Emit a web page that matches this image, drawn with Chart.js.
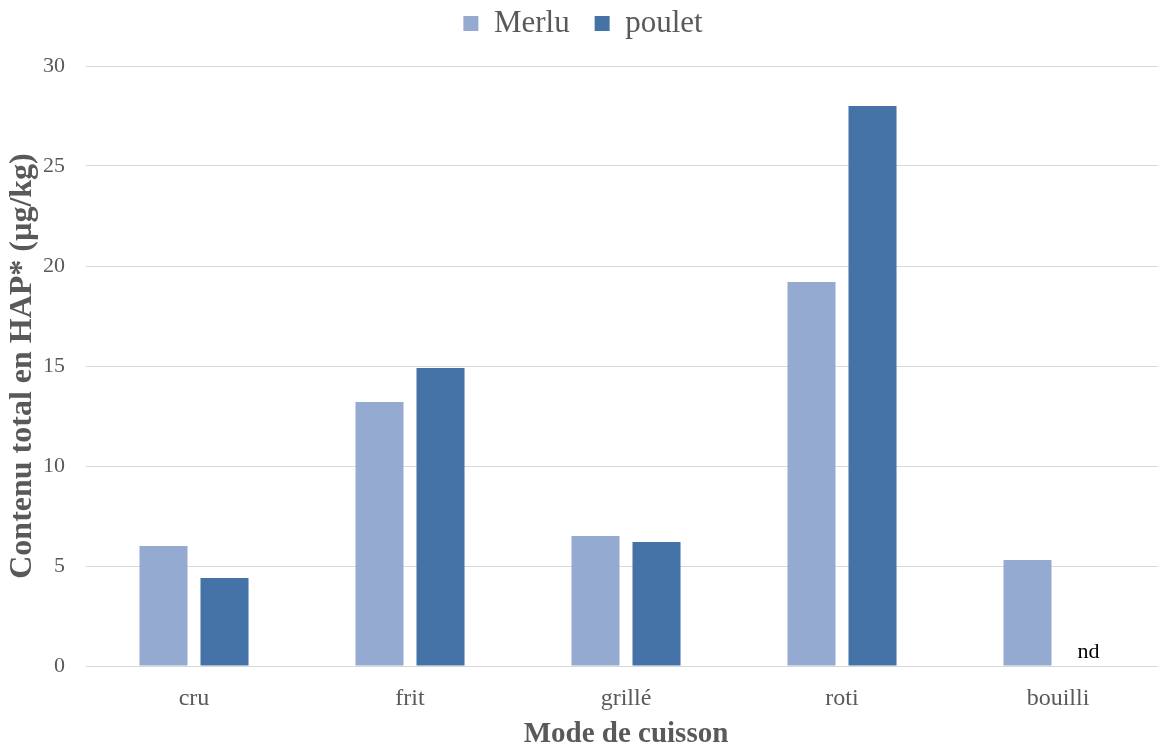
<!DOCTYPE html>
<html>
<head>
<meta charset="utf-8">
<script src="https://cdn.jsdelivr.net/npm/chart.js@4.4.1/dist/chart.umd.min.js"></script>
<style>
  html, body { margin: 0; padding: 0; background: #ffffff; overflow: hidden; }
  #wrap { width: 1166px; height: 747px; position: relative; }
</style>
</head>
<body>
<div id="wrap"><canvas id="c" width="1166" height="747"></canvas></div>
<script>
const categories = ['cru', 'frit', 'grillé', 'roti', 'bouilli'];
const merlu = [6.0, 13.2, 6.5, 19.2, 5.3];
const poulet = [4.4, 14.9, 6.2, 28.0, null];
const yTicks = [0, 5, 10, 15, 20, 25, 30];
const missingLabel = 'nd';

const textColor = '#595959';
const serif = "'Liberation Serif', 'Times New Roman', serif";

const ndPlugin = {
  id: 'ndLabel',
  afterDatasetsDraw(chart) {
    const meta = chart.getDatasetMeta(1);
    const yScale = chart.scales.y;
    const ctx = chart.ctx;
    ctx.save();
    ctx.font = '22px ' + serif;
    ctx.fillStyle = '#000000';
    ctx.textAlign = 'center';
    ctx.textBaseline = 'alphabetic';
    poulet.forEach((v, i) => {
      if (v === null) {
        const el = meta.data[i];
        const x = el.x;
        const y = yScale.getPixelForValue(0) - 8;
        ctx.fillText(missingLabel, x, y);
      }
    });
    ctx.restore();
  }
};

const legendShift = {
  id: 'legendShift',
  afterLayout(chart) {
    if (chart.legend) {
      chart.legend.top -= 17;
      chart.legend.bottom -= 17;
    }
  }
};

new Chart(document.getElementById('c'), {
  type: 'bar',
  data: {
    labels: categories,
    datasets: [
      { label: 'Merlu', data: merlu, backgroundColor: '#95AAD0', borderWidth: 0 },
      { label: 'poulet', data: poulet, backgroundColor: '#4573A8', borderWidth: 0 }
    ]
  },
  options: {
    responsive: false,
    animation: false,
    devicePixelRatio: 1,
    layout: { padding: { left: 0, right: 0, top: 0, bottom: 0 } },
    datasets: { bar: { categoryPercentage: 0.565, barPercentage: 0.787 } },
    plugins: {
      legend: {
        position: 'top',
        labels: {
          font: { family: serif, size: 31 },
          color: textColor,
          boxWidth: 15,
          boxHeight: 15,
          padding: 25
        }
      },
      tooltip: { enabled: false }
    },
    scales: {
      x: {
        grid: { display: false, drawTicks: false },
        border: { display: false },
        ticks: { font: { family: serif, size: 24 }, color: textColor, padding: 18 },
        title: {
          display: true,
          text: 'Mode de cuisson',
          font: { family: serif, size: 29, weight: 'bold', lineHeight: 1.0 },
          color: textColor,
          padding: { top: 0, bottom: -2 }
        },
        afterFit(scale) { scale.height = 81; }
      },
      y: {
        min: 0,
        max: 30,
        afterBuildTicks(scale) { scale.ticks = yTicks.map(v => ({ value: v })); },
        grid: { color: '#d9d9d9', lineWidth: 1, drawTicks: false },
        border: { display: false },
        ticks: { font: { family: serif, size: 22 }, color: textColor, padding: 21 },
        title: {
          display: true,
          text: 'Contenu total en HAP* (µg/kg)',
          font: { family: serif, size: 32, weight: 'bold', lineHeight: 1.2 },
          color: textColor,
          padding: { top: 4, bottom: 0 }
        },
        afterFit(scale) { scale.width = 86; }
      }
    }
  },
  plugins: [ndPlugin, legendShift]
});
</script>
</body>
</html>
